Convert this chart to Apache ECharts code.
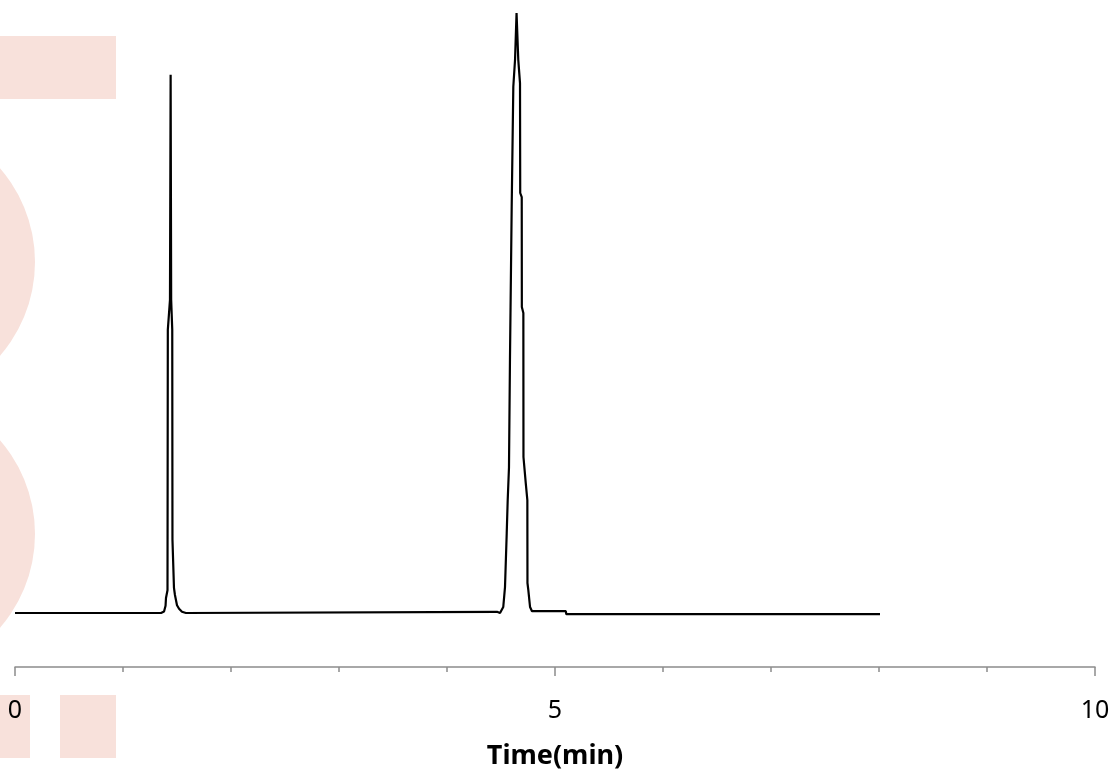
<!DOCTYPE html>
<html>
<head>
<meta charset="utf-8">
<script src="https://cdn.jsdelivr.net/npm/echarts@6/dist/echarts.min.js"></script>
<style>
html,body{margin:0;padding:0;background:#fff;}
#chart{width:1115px;height:773px;}
</style>
</head>
<body>
<div id="chart"></div>
<script>
// Retention time (min)
var timeMin = [
  0, 1.352, 1.380, 1.394, 1.398, 1.412, 1.415, 1.435, 1.441, 1.446, 1.456, 1.458,
  1.472, 1.481, 1.500, 1.519, 1.546, 1.583,
  4.463, 4.491, 4.521, 4.537, 4.553, 4.562, 4.574, 4.583, 4.599, 4.614, 4.630,
  4.644, 4.660, 4.676, 4.678, 4.692, 4.693, 4.707, 4.708, 4.729, 4.744, 4.745,
  4.753, 4.769, 4.787, 4.815, 5.100, 5.105, 8.009
];
// Detector signal (relative)
var signal = [
  0, 0, 0.25, 1.2, 2.5, 3.8, 47.2, 52.2, 89.7, 52.2, 47.2, 12.2,
  4.2, 3.0, 1.3, 0.7, 0.2, 0,
  0.2, 0, 1.0, 4.3, 13.3, 18.8, 24.3, 42.2, 67.7, 87.7, 92.2,
  100, 92.2, 88.3, 70, 69.3, 51, 50, 26, 21.7, 18.8, 5,
  3.8, 1.0, 0.3, 0.3, 0.3, -0.2, -0.2
];
var xTickLabels = ['0', '5', '10'];
var axisTitle = 'Time(min)';

var points = timeMin.map(function (t, i) { return [t, signal[i]]; });
var wm = '#f8e1db';

var chart = echarts.init(document.getElementById('chart'));
chart.setOption({
  animation: false,
  backgroundColor: '#ffffff',
  grid: { left: 15, right: 20, top: 13, bottom: 106, containLabel: false, outerBoundsMode: 'none' },
  graphic: [
    { type: 'rect', z: -10, shape: { x: 0, y: 36, width: 116, height: 63 }, style: { fill: wm } },
    { type: 'circle', z: -10, shape: { cx: -108, cy: 262, r: 143 }, style: { fill: wm } },
    { type: 'circle', z: -10, shape: { cx: -108, cy: 534, r: 143 }, style: { fill: wm } },
    { type: 'rect', z: -10, shape: { x: 0, y: 695, width: 30, height: 63 }, style: { fill: wm } },
    { type: 'rect', z: -10, shape: { x: 60, y: 695, width: 56, height: 63 }, style: { fill: wm } }
  ],
  xAxis: {
    type: 'value',
    min: 0,
    max: 10,
    interval: 5,
    name: axisTitle,
    nameLocation: 'middle',
    nameGap: 76,
    nameTextStyle: { fontFamily: 'Noto Sans', fontSize: 27, fontWeight: 'bold', color: '#000' },
    axisLine: { show: true, onZero: false, lineStyle: { color: '#8c8c8c', width: 1.5 } },
    axisTick: { show: true, length: 9, lineStyle: { color: '#8c8c8c', width: 1.5 } },
    minorTick: { show: true, splitNumber: 5, length: 5, lineStyle: { color: '#8c8c8c', width: 1.5 } },
    splitLine: { show: false },
    minorSplitLine: { show: false },
    axisLabel: {
      margin: 31,
      fontFamily: 'Noto Sans',
      fontSize: 25,
      color: '#000',
      formatter: function (v) {
        var s = String(v);
        return xTickLabels.indexOf(s) >= 0 ? s : '';
      }
    }
  },
  yAxis: {
    type: 'value',
    min: -9,
    max: 100,
    show: false,
    splitLine: { show: false }
  },
  series: [{
    type: 'line',
    data: points,
    showSymbol: false,
    symbol: 'none',
    clip: false,
    lineStyle: { color: '#000', width: 2.2 }
  }]
});
</script>
</body>
</html>
